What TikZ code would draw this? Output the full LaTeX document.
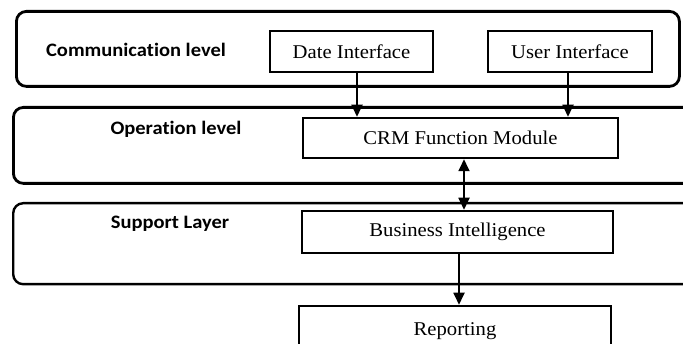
\documentclass[tikz,border=0pt]{standalone}
\usepackage{fontspec}
\setmainfont[FakeStretch=1.06]{Liberation Serif}
\newfontfamily\lvlfont[FakeStretch=1.08,Ligatures=NoCommon]{Carlito}
\usetikzlibrary{arrows.meta}
\begin{document}
\begin{tikzpicture}[x=1pt,y=-1pt,
  layer/.style={draw,line width=2.8pt,rounded corners=10pt,anchor=north west,inner sep=0pt},
  boxnode/.style={draw,line width=2.5pt,inner sep=0pt,font=\fontsize{19.5}{22}\selectfont},
  lvl/.style={font=\fontsize{19}{22}\selectfont\lvlfont\bfseries,inner sep=0pt},
  arr/.style={line width=1.8pt,-{Triangle[length=12pt,width=11pt]}},
  darr/.style={line width=1.8pt,{Triangle[length=12pt,width=11pt]}-{Triangle[length=12pt,width=11pt]}}]
\useasboundingbox (0,0) rectangle (683,344);
\clip (0,0) rectangle (683,344);
% layers
\node[layer,minimum width=663pt,minimum height=75pt] (comm) at (15,10) {};
\node[layer,minimum width=690pt,minimum height=76pt] (oper) at (12,106) {};
\node[layer,minimum width=690pt,minimum height=81pt,line width=2.4pt] (supp) at (12,202) {};
% level labels
\node[lvl] (lcomm) at (136,50) {Communication level};
\node[lvl] (loper) at (176,129) {Operation level};
\node[lvl] (lsupp) at (170,224) {Support Layer};
% boxes
\node[boxnode,minimum width=163pt,minimum height=41pt] (date) at (351.5,51.5) {Date Interface};
\node[boxnode,minimum width=164pt,minimum height=41pt] (user) at (570,51.5) {User Interface};
\node[boxnode,minimum width=315pt,minimum height=40pt] (crm) at (460.5,138) {CRM Function Module};
\node[boxnode,minimum width=311pt,minimum height=42pt] (bi) at (457.5,232) {Business Intelligence};
\node[boxnode,minimum width=312pt,minimum height=46pt,text depth=0pt] (rep) at (455,329) {Reporting};
% connectors
\draw[arr] ([xshift=5.5pt]date.south) -- ([xshift=5.5pt]date.south |- crm.north);
\draw[arr] ([xshift=-2pt]user.south) -- ([xshift=-2pt]user.south |- crm.north);
\draw[darr] ([xshift=3.5pt]crm.south) -- ([xshift=3.5pt]crm.south |- bi.north);
\draw[arr] ([xshift=1.5pt]bi.south) -- ([xshift=1.5pt]bi.south |- rep.north);
\end{tikzpicture}
\end{document}
